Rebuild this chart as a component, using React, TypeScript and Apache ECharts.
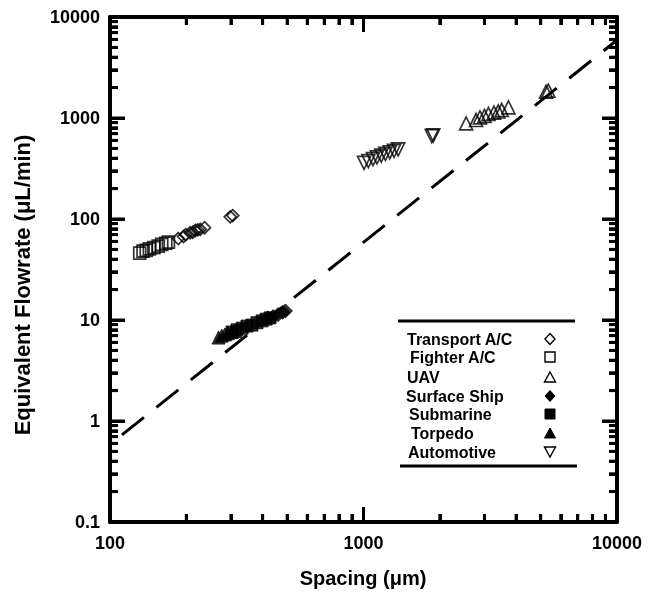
import React, { useEffect, useRef } from "react";
import * as echarts from "echarts";

// ---- Data ----
const transportAC: [number, number][] = [
  [186, 64], [195, 67], [199, 70], [207, 73], [212, 74], [217, 77], [222, 78], [227, 79], [236, 82], [298, 105], [305, 108],
];
const fighterAC: [number, number][] = [
  [131, 46], [135, 48], [139, 49], [143, 50.5], [149, 52], [155, 54], [160, 56], [166, 57.5], [170, 59],
];
const uav: [number, number][] = [
  [2540, 886], [2780, 955], [2880, 1016], [3000, 1050], [3110, 1096], [3270, 1129], [3400, 1160], [3510, 1200], [3730, 1276], [5250, 1820], [5360, 1864],
];
const surfaceShip: [number, number][] = [
  [420, 10.5], [440, 10.8], [460, 11.3], [480, 11.9], [492, 12.3],
];
const submarine: [number, number][] = [
  [303, 7.6], [317, 8.0], [332, 8.3], [347, 8.7], [363, 8.9], [380, 9.4], [398, 9.8], [413, 10.2], [428, 10.5],
];
const torpedo: [number, number][] = [
  [268, 6.7], [276, 7.0], [284, 7.2], [292, 7.4], [302, 7.6], [312, 7.8],
];
const automotive: [number, number][] = [
  [1005, 360], [1045, 375], [1090, 392], [1130, 408], [1175, 425], [1220, 442], [1270, 458], [1320, 472], [1370, 488], [1860, 663], [1885, 672],
];
const fitLine: [number, number][] = [
  [111.5, 0.73], [10000, 5900],
];

const xMajorTicks = [100, 1000, 10000];
const xMinorTicks = [200, 300, 400, 500, 600, 700, 800, 900, 2000, 3000, 4000, 5000, 6000, 7000, 8000, 9000];
const yMajorTicks = [0.1, 1, 10, 100, 1000, 10000];
const yMinorTicks = [
  0.2, 0.3, 0.4, 0.5, 0.6, 0.7, 0.8, 0.9,
  2, 3, 4, 5, 6, 7, 8, 9,
  20, 30, 40, 50, 60, 70, 80, 90,
  200, 300, 400, 500, 600, 700, 800, 900,
  2000, 3000, 4000, 5000, 6000, 7000, 8000, 9000,
];
const xTickLabels = ["100", "1000", "10000"];
const yTickLabels = ["0.1", "1", "10", "100", "1000", "10000"];

const legendNames = ["Transport A/C", "Fighter A/C", "UAV", "Surface Ship", "Submarine", "Torpedo", "Automotive"];

const FONT = "'Liberation Sans', Arial, Helvetica, sans-serif";
const X_MIN = 100, X_MAX = 10000, Y_MIN = 0.1, Y_MAX = 10000;
const MAJOR_LEN = 15, MINOR_LEN = 8;

function labelFor(v: number, ticks: number[], labels: string[]) {
  let best = 0;
  let bd = Infinity;
  ticks.forEach((t, i) => {
    const d = Math.abs(Math.log10(t) - Math.log10(v));
    if (d < bd) { bd = d; best = i; }
  });
  return labels[best];
}

const axisCommon = {
  type: "log", logBase: 10,
  axisLine: { show: true, onZero: false, lineStyle: { color: "#000", width: 4 } },
  axisTick: { show: true, inside: true, length: MAJOR_LEN, lineStyle: { color: "#000", width: 3 } },
  minorTick: { show: true, splitNumber: 9, length: MINOR_LEN, lineStyle: { color: "#000", width: 3 } },
  splitLine: { show: false },
  minorSplitLine: { show: false },
};

function makeX(position: "bottom" | "top", showLabel: boolean) {
  return {
    ...axisCommon, min: X_MIN, max: X_MAX, position,
    axisLabel: {
      show: showLabel, margin: 12, color: "#000", fontSize: 18, fontWeight: "bold", fontFamily: FONT,
      formatter: (v: number) => labelFor(v, xMajorTicks, xTickLabels),
    },
  };
}
function makeY(position: "left" | "right", showLabel: boolean) {
  return {
    ...axisCommon, min: Y_MIN, max: Y_MAX, position,
    axisLabel: {
      show: showLabel, margin: 10, color: "#000", fontSize: 18, fontWeight: "bold", fontFamily: FONT,
      formatter: (v: number) => labelFor(v, yMajorTicks, yTickLabels),
    },
  };
}

function scatter(name: string, data: [number, number][], symbol: string, size: number, filled: boolean, rotate = 0) {
  return {
    name, type: "scatter", xAxisIndex: 0, yAxisIndex: 0, data, symbol, symbolSize: size, symbolRotate: rotate,
    itemStyle: filled
      ? { color: "#000", borderColor: "#000", borderWidth: 1 }
      : { color: "rgba(255,255,255,0)", borderColor: "#000", borderWidth: 1.7 },
    z: 3,
  };
}

export default function App() {
  const ref = useRef<HTMLDivElement>(null);
  useEffect(() => {
    document.body.style.margin = "0";
    const chart = echarts.init(ref.current!, null, { renderer: "svg" });

    const rowY = [339, 357, 377, 396, 414, 433, 452];
    const textX = [407, 410, 407, 406, 409, 411, 408];
    const sx = 550;
    const tri = (cy: number, down: boolean) => {
      const h = 5;
      return down
        ? [[sx - 5.5, cy - h], [sx + 5.5, cy - h], [sx, cy + h]]
        : [[sx, cy - h], [sx + 5.5, cy + h], [sx - 5.5, cy + h]];
    };
    const dia = (cy: number) => [[sx, cy - 5.5], [sx + 5, cy], [sx, cy + 5.5], [sx - 5, cy]];
    const st = () => ({ stroke: "#000", lineWidth: 1.4, fill: "none" });
    const so = () => ({ fill: "#000", stroke: "#000", lineWidth: 1 });

    const legendSymbols: any[] = [
      { type: "polygon", shape: { points: dia(rowY[0]) }, style: st() },
      { type: "rect", shape: { x: sx - 5, y: rowY[1] - 5, width: 10, height: 10 }, style: st() },
      { type: "polygon", shape: { points: tri(rowY[2], false) }, style: st() },
      { type: "polygon", shape: { points: dia(rowY[3]) }, style: so() },
      { type: "rect", shape: { x: sx - 5, y: rowY[4] - 5, width: 10, height: 10 }, style: so() },
      { type: "polygon", shape: { points: tri(rowY[5], false) }, style: so() },
      { type: "polygon", shape: { points: tri(rowY[6], true) }, style: st() },
    ];

    chart.setOption({
      animation: false,
      grid: { left: 110, top: 17, right: 37, bottom: 73 },
      xAxis: [makeX("bottom", true), makeX("top", false)],
      yAxis: [makeY("left", true), makeY("right", false)],
      series: [
        {
          name: "fit", type: "line", xAxisIndex: 0, yAxisIndex: 0, data: fitLine, symbol: "none",
          lineStyle: { color: "#000", width: 3, type: [28, 16] }, z: 2,
        },
        scatter(legendNames[0], transportAC, "diamond", 12, false),
        scatter(legendNames[1], fighterAC, "rect", 12, false),
        scatter(legendNames[2], uav, "triangle", 13, false),
        scatter(legendNames[3], surfaceShip, "diamond", 14, true),
        scatter(legendNames[4], submarine, "rect", 12, true),
        scatter(legendNames[5], torpedo, "triangle", 13, true),
        scatter(legendNames[6], automotive, "triangle", 13, false, 180),
      ],
    } as any);

    // Backup inward ticks on all four sides, positioned through the chart's own log scales.
    const toPx = (p: [number, number]) =>
      chart.convertToPixel({ xAxisIndex: 0, yAxisIndex: 0 } as any, p) as unknown as number[];
    const tickEls: any[] = [];
    const mk = (x1: number, y1: number, x2: number, y2: number) => ({
      type: "line", shape: { x1, y1, x2, y2 }, style: { stroke: "#000", lineWidth: 3 },
    });
    const addX = (ticks: number[], len: number) =>
      ticks.forEach((v) => {
        const b = toPx([v, Y_MIN]);
        const t = toPx([v, Y_MAX]);
        if (!b || !t) return;
        tickEls.push(mk(b[0], b[1], b[0], b[1] - len));
        tickEls.push(mk(t[0], t[1], t[0], t[1] + len));
      });
    const addY = (ticks: number[], len: number) =>
      ticks.forEach((v) => {
        const l = toPx([X_MIN, v]);
        const r = toPx([X_MAX, v]);
        if (!l || !r) return;
        tickEls.push(mk(l[0], l[1], l[0] + len, l[1]));
        tickEls.push(mk(r[0], r[1], r[0] - len, r[1]));
      });
    addX(xMajorTicks, MAJOR_LEN);
    addX(xMinorTicks, MINOR_LEN);
    addY(yMajorTicks, MAJOR_LEN);
    addY(yMinorTicks, MINOR_LEN);

    chart.setOption({
      graphic: [
        { type: "line", shape: { x1: 398, y1: 321, x2: 575, y2: 321 }, style: { stroke: "#000", lineWidth: 3 } },
        { type: "line", shape: { x1: 400, y1: 466, x2: 577, y2: 466 }, style: { stroke: "#000", lineWidth: 3 } },
        ...legendNames.map((n, i) => ({
          type: "text", x: textX[i], y: rowY[i],
          style: { text: n, font: `bold 16px ${FONT}`, fill: "#000", textAlign: "left", textVerticalAlign: "middle" },
        })),
        ...legendSymbols,
        {
          type: "text", x: 363, y: 578,
          style: { text: "Spacing (μm)", font: `bold 20px ${FONT}`, fill: "#000", textAlign: "center", textVerticalAlign: "middle" },
        },
        {
          type: "text", x: 22, y: 285, rotation: Math.PI / 2,
          style: { text: "Equivalent Flowrate (μL/min)", font: `bold 22px ${FONT}`, fill: "#000", textAlign: "center", textVerticalAlign: "middle" },
        },
        ...tickEls,
      ],
    });
    return () => chart.dispose();
  }, []);
  return <div ref={ref} style={{ position: "fixed", left: 0, top: 0, width: 654, height: 595 }} />;
}
